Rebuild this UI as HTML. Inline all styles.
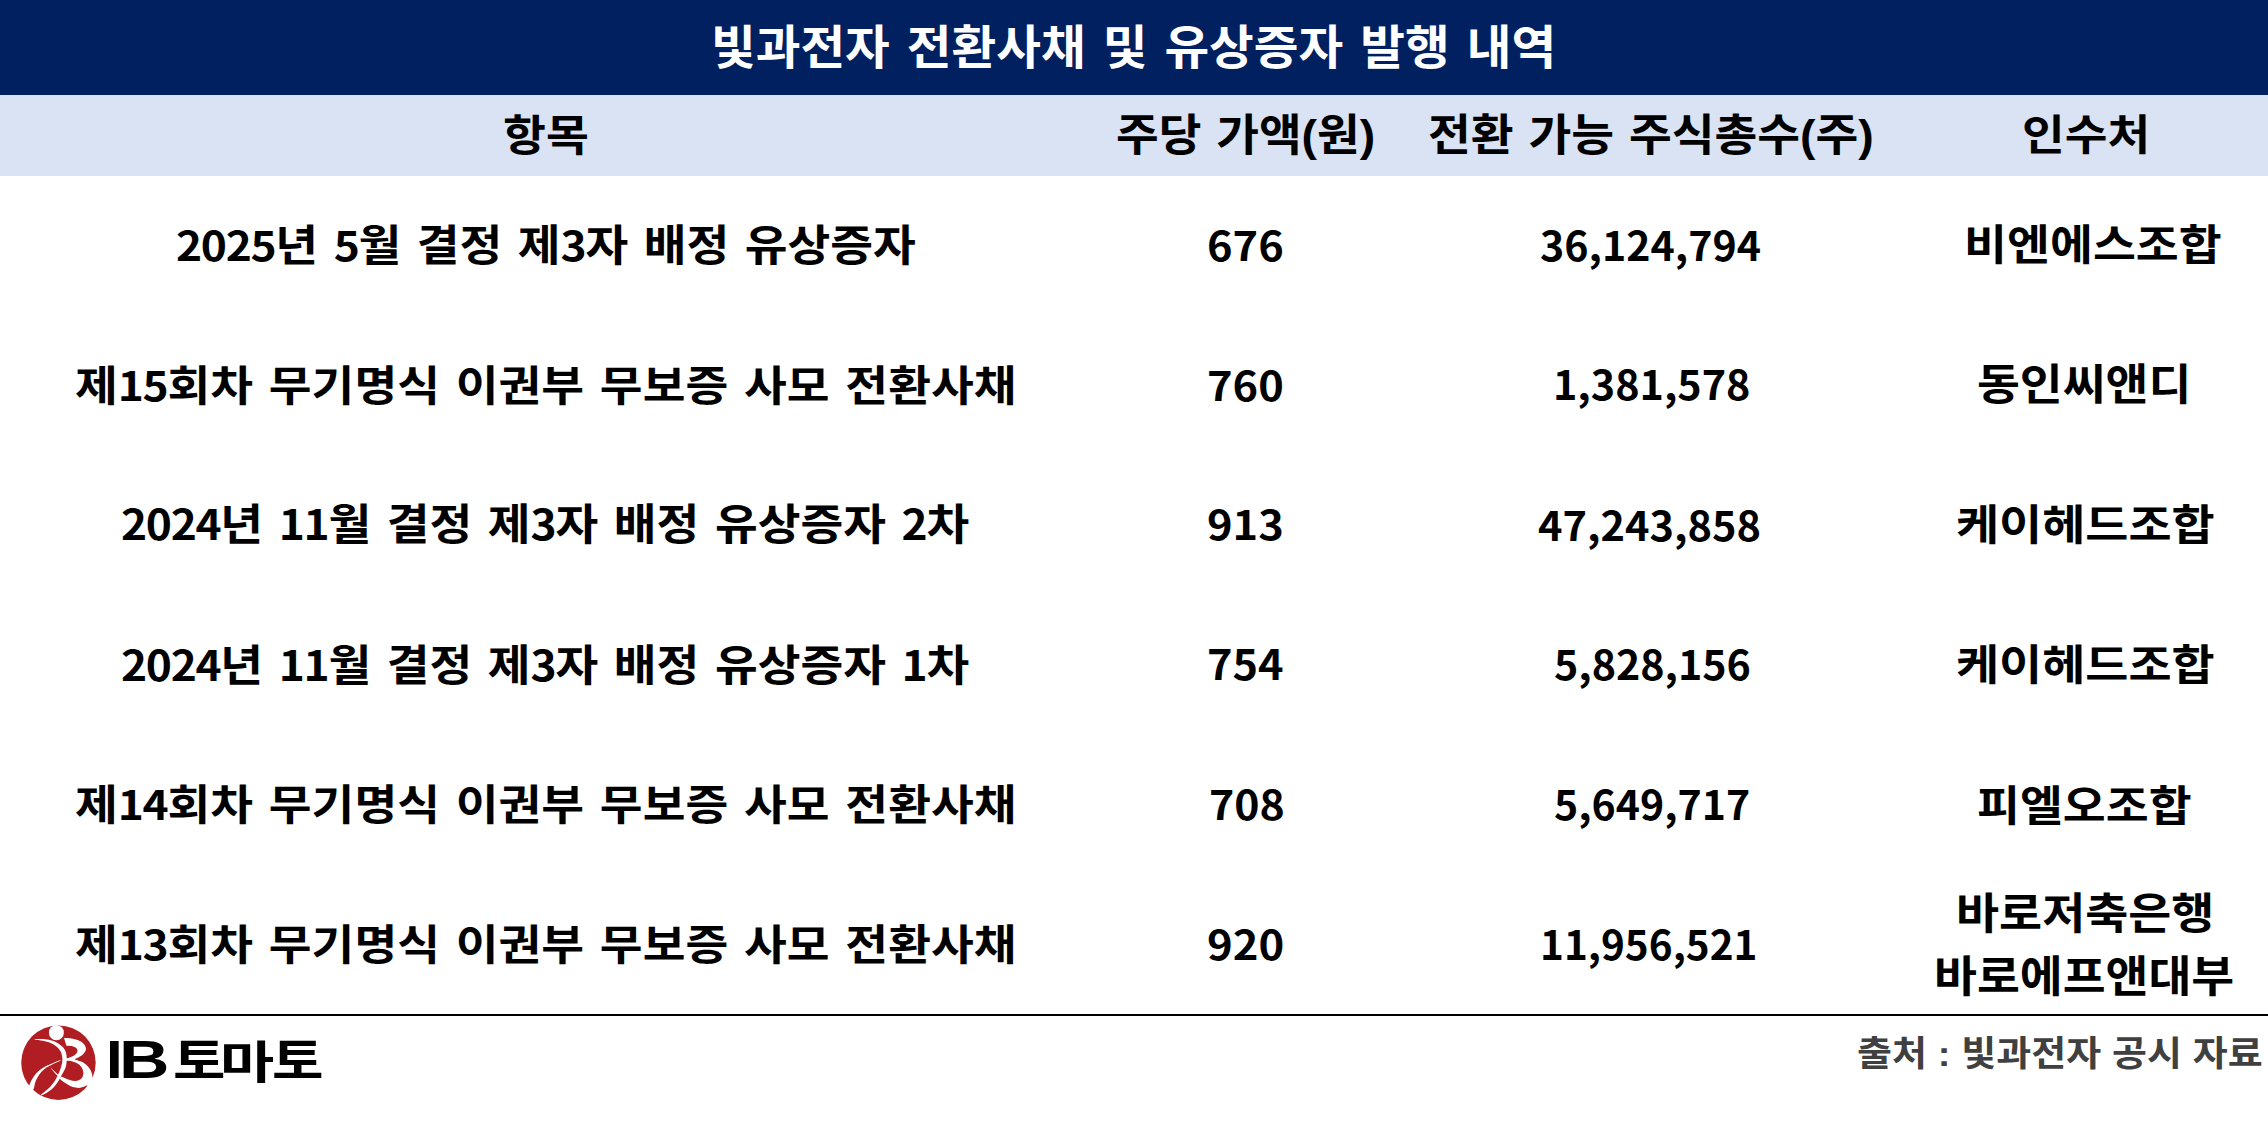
<!DOCTYPE html>
<html lang="ko">
<head>
<meta charset="utf-8">
<title>빛과전자 전환사채 및 유상증자 발행 내역</title>
<style>

html,body{margin:0;padding:0;background:#fff;}
#page{position:relative;width:2268px;height:1147px;overflow:hidden;background:#fff;font-family:"Liberation Sans", "Noto Sans CJK KR", sans-serif;font-weight:700;color:#000;}
.t{position:absolute;white-space:nowrap;line-height:1;transform-origin:0 0;}
.n{font-family:"Noto Sans CJK KR",sans-serif;font-size:0.953em;letter-spacing:-1.3px;}
.k{font-family:"Noto Sans CJK KR",sans-serif;}
.l{font-family:"Liberation Sans",sans-serif;}
#band1{position:absolute;left:0;top:0;width:2268px;height:95px;background:#002060;}
#band2{position:absolute;left:0;top:95px;width:2268px;height:81px;background:#dae3f3;}
#rule{position:absolute;left:0;top:1014px;width:2268px;height:2px;background:#000;}

</style>
</head>
<body>
<div id="page">
<div id="band1"></div>
<div id="band2"></div>
<div id="rule"></div>
<div class="t" id="title" style="left:710.97px;top:25.24px;font-size:48.6px;transform:scale(0.9998,0.9599);color:#fff;word-spacing:3.55px;">빛과전자 전환사채 및 유상증자 발행 내역</div>
<div class="t" id="h1" style="left:502.9px;top:113.86px;font-size:46.5px;transform:scale(1.0025,0.9368);">항목</div>
<div class="t" id="h2" style="left:1115.8px;top:114.47px;font-size:46.5px;transform:scale(0.9977,0.9595);word-spacing:2.0px;">주당 가액(원)</div>
<div class="t" id="h3" style="left:1427.65px;top:113.0px;font-size:46.5px;transform:scale(0.9999,0.9651);word-spacing:1.98px;">전환 가능 주식총수(주)</div>
<div class="t" id="h4" style="left:2022.15px;top:114.71px;font-size:46.5px;transform:scale(0.9983,0.9093);">인수처</div>
<div class="t" id="a0" style="left:175.79px;top:223.2px;font-size:46.5px;transform:scale(1.0001,0.9209);word-spacing:2.56px;"><span class="n">2025</span>년 <span class="n">5</span>월 결정 제<span class="n">3</span>자 배정 유상증자</div>
<div class="t" id="a1" style="left:74.7px;top:363.61px;font-size:46.5px;transform:scale(1.0001,0.9027);word-spacing:2.86px;">제<span class="n">15</span>회차 무기명식 이권부 무보증 사모 전환사채</div>
<div class="t" id="a2" style="left:121.25px;top:502.21px;font-size:46.5px;transform:scale(1.0001,0.9303);word-spacing:2.63px;"><span class="n">2024</span>년 <span class="n">11</span>월 결정 제<span class="n">3</span>자 배정 유상증자 <span class="n">2</span>차</div>
<div class="t" id="a3" style="left:121.25px;top:642.53px;font-size:46.5px;transform:scale(1.0001,0.9303);word-spacing:2.63px;"><span class="n">2024</span>년 <span class="n">11</span>월 결정 제<span class="n">3</span>자 배정 유상증자 <span class="n">1</span>차</div>
<div class="t" id="a4" style="left:74.7px;top:782.57px;font-size:46.5px;transform:scale(1.0001,0.9027);word-spacing:2.86px;">제<span class="n">14</span>회차 무기명식 이권부 무보증 사모 전환사채</div>
<div class="t" id="a5" style="left:74.7px;top:922.89px;font-size:46.5px;transform:scale(1.0001,0.9027);word-spacing:2.86px;">제<span class="n">13</span>회차 무기명식 이권부 무보증 사모 전환사채</div>
<div class="t k" id="b0" style="left:1207.23px;top:222.85px;font-size:42px;transform:scale(1.0326,0.9617);">676</div>
<div class="t k" id="b1" style="left:1206.83px;top:363.17px;font-size:42px;transform:scale(1.0326,0.9617);">760</div>
<div class="t k" id="b2" style="left:1207.32px;top:502.49px;font-size:42px;transform:scale(1.0335,0.9617);">913</div>
<div class="t k" id="b3" style="left:1207.28px;top:641.91px;font-size:42px;transform:scale(1.0302,0.9846);">754</div>
<div class="t k" id="b4" style="left:1208.61px;top:782.13px;font-size:42px;transform:scale(1.0199,0.9617);">708</div>
<div class="t k" id="b5" style="left:1207.25px;top:922.45px;font-size:42px;transform:scale(1.0389,0.9617);">920</div>
<div class="t k" id="c0" style="left:1540.26px;top:223.1px;font-size:42px;transform:scale(0.9794,0.9767);">36,124,794</div>
<div class="t k" id="c1" style="left:1552.83px;top:362.42px;font-size:42px;transform:scale(0.9831,0.9767);">1,381,578</div>
<div class="t k" id="c2" style="left:1538.31px;top:502.74px;font-size:42px;transform:scale(0.9881,0.9767);">47,243,858</div>
<div class="t k" id="c3" style="left:1553.64px;top:642.06px;font-size:42px;transform:scale(0.98,0.9767);">5,828,156</div>
<div class="t k" id="c4" style="left:1553.5px;top:782.38px;font-size:42px;transform:scale(0.9767,0.9767);">5,649,717</div>
<div class="t k" id="c5" style="left:1539.96px;top:921.7px;font-size:42px;transform:scale(0.964,0.9767);">11,956,521</div>
<div class="t" id="d0" style="left:1963.88px;top:224.84px;font-size:46.5px;transform:scale(1.0042,0.9006);">비엔에스조합</div>
<div class="t" id="d1" style="left:1977.38px;top:364.06px;font-size:46.5px;transform:scale(1.0017,0.9244);">동인씨앤디</div>
<div class="t" id="d2" style="left:1955.54px;top:504.54px;font-size:46.5px;transform:scale(1.0075,0.9075);">케이헤드조합</div>
<div class="t" id="d3" style="left:1955.54px;top:644.54px;font-size:46.5px;transform:scale(1.0075,0.9075);">케이헤드조합</div>
<div class="t" id="d4" style="left:1977.19px;top:785.59px;font-size:46.5px;transform:scale(1.0036,0.9027);">피엘오조합</div>
<div class="t" id="d5a" style="left:1955.83px;top:893.41px;font-size:46.5px;transform:scale(1.0068,0.9289);">바로저축은행</div>
<div class="t" id="d5b" style="left:1934.41px;top:954.86px;font-size:46.5px;transform:scale(1.0025,0.9366);">바로에프앤대부</div>
<div class="t" id="src" style="left:1857.05px;top:1036.46px;font-size:38px;transform:scale(1.0,0.9232);color:#404040;word-spacing:0.31px;">출처 : 빛과전자 공시 자료</div>
<div class="t l" id="wI" style="left:106.2px;top:1032.99px;font-size:50px;transform:scale(1.2,1.0599);">I</div>
<div class="t l" id="wB" style="left:118.96px;top:1032.99px;font-size:50px;transform:scale(1.3967,1.0599);">B</div>
<div class="t k" id="wT1" style="left:172.52px;top:1033.11px;font-size:46px;transform:scale(1.239,1.0446);">토</div>
<div class="t k" id="wM" style="left:220.04px;top:1035.92px;font-size:46px;transform:scale(1.281,0.9953);">마</div>
<div class="t k" id="wT2" style="left:271.76px;top:1033.11px;font-size:46px;transform:scale(1.2182,1.0446);">토</div>
<svg id="logo" style="position:absolute;left:10px;top:1015px;width:100px;height:95px;overflow:visible" viewBox="0 0 1207 1147">
<circle cx="584.8" cy="575.2" r="449.6" fill="#b01e23"/>
<circle cx="559.8" cy="213.2" r="90.5" fill="#fff"/>
<path d="M295.7,289.6 C316.6,290.0 384.5,288.5 420.8,292.0 C457.1,295.5 486.4,302.0 513.4,310.5 C540.4,319.0 561.3,329.0 582.9,342.9 C604.5,356.8 627.6,375.4 643.1,393.9 C658.6,412.4 668.7,432.5 675.6,454.1 C682.5,475.7 684.0,500.7 684.8,523.6 C685.6,546.5 682.5,573.4 680.2,591.6 C677.9,609.8 676.3,617.5 670.9,632.6 C665.5,647.7 657.1,663.8 647.8,682.1 C638.5,700.4 624.6,725.3 615.3,742.3 C606.0,759.3 603.0,767.0 592.2,784.0 C581.4,801.0 566.0,824.9 550.5,844.2 C535.0,863.5 518.0,883.6 499.5,899.8 C481.0,916.0 459.4,929.5 439.3,941.5 C419.2,953.5 389.1,966.6 379.1,971.6 L374.5,958.0 C382.2,952.2 403.1,937.3 420.8,923.0 C438.6,908.7 463.2,889.8 481.0,872.0 C498.8,854.2 514.2,834.9 527.3,816.4 C540.4,797.9 551.3,776.3 559.8,760.9 C568.3,745.5 571.4,738.5 578.3,723.8 C585.2,709.1 594.4,691.3 601.4,672.8 C608.4,654.3 615.1,631.4 620.0,612.6 C624.9,593.8 629.5,578.7 631.0,560.0 C632.5,541.3 633.4,521.9 629.2,500.4 C625.1,478.9 617.7,451.0 606.1,430.9 C594.5,410.8 579.1,395.4 559.8,380.0 C540.5,364.6 517.3,349.9 490.3,338.3 C463.3,326.7 430.0,317.8 397.6,310.5 C365.2,303.2 312.7,297.0 295.7,294.3 Z" fill="#fff"/>
<path d="M609.5,544.4 C593.8,550.6 547.0,568.5 515.4,581.8 C483.8,595.1 448.4,608.1 420.0,624.0 C391.6,639.9 367.3,657.6 345.2,677.1 C323.1,696.6 303.2,719.8 287.3,741.1 C271.4,762.4 259.3,786.2 249.8,805.1 C240.3,824.0 233.7,846.4 230.5,854.6 C222.9,861.3 180.9,881.6 185.0,895.0 C189.1,908.4 237.2,938.5 255.0,935.0 C272.9,931.5 285.9,884.1 292.1,873.9 C293.9,864.4 296.2,837.4 303.0,817.1 C309.8,796.8 321.0,772.9 333.1,752.0 C345.2,731.1 357.7,711.1 375.4,691.6 C393.1,672.1 416.0,651.2 439.3,634.9 C462.6,618.6 487.0,607.7 515.4,593.8 C543.8,579.9 593.8,558.6 609.5,551.6 Z" fill="#fff"/>
<path d="M652.4,278.0 C667.8,278.8 714.1,277.3 745.0,282.7 C775.9,288.1 813.0,298.9 837.7,310.5 C862.4,322.1 880.2,336.8 893.3,352.2 C906.4,367.6 914.9,386.9 916.4,403.1 C917.9,419.3 911.8,434.7 902.5,449.4 C893.2,464.1 879.3,478.0 860.8,491.1 C842.3,504.2 804.5,520.5 791.4,528.2 C778.3,535.9 783.6,536.0 782.0,537.5 C799.0,543.8 855.4,558.6 884.0,575.0 C912.6,591.4 936.5,615.6 953.5,635.8 C970.5,656.0 978.6,675.9 985.9,696.0 C993.2,716.1 995.6,746.2 997.5,756.2 C1007.9,763.5 1057.9,774.4 1060.0,800.0 C1062.1,825.6 1031.6,901.9 1010.0,910.0 C988.4,918.1 943.6,859.1 930.3,848.9 C918.7,853.5 883.9,872.1 860.8,876.7 C837.6,881.3 814.5,880.6 791.4,876.7 C768.2,872.8 745.1,864.3 721.9,853.5 C698.7,842.7 673.2,826.5 652.4,811.8 C631.5,797.1 606.1,773.2 596.8,765.5 L615.3,742.3 C621.5,744.6 634.6,749.2 652.4,756.2 C670.2,763.2 698.7,777.4 721.9,784.0 C745.1,790.6 770.5,796.4 791.4,795.6 C812.2,794.8 832.3,789.0 847.0,779.4 C861.7,769.8 873.2,753.9 879.4,737.7 C885.6,721.5 887.1,700.6 884.0,682.1 C880.9,663.6 872.4,642.7 860.8,626.5 C849.2,610.3 833.8,596.4 814.5,584.8 C795.2,573.2 766.6,562.3 745.0,557.0 C723.4,551.7 694.8,553.7 684.8,553.0 C680.7,550.8 659.2,544.9 660.0,540.0 C660.8,535.1 684.5,526.3 689.4,523.6 C702.5,518.2 748.9,501.9 768.2,491.1 C787.5,480.3 797.5,469.5 805.2,458.7 C812.9,447.9 816.8,437.1 814.5,426.3 C812.2,415.5 803.0,402.4 791.4,393.9 C779.8,385.4 763.5,379.2 745.0,375.3 C726.5,371.4 691.0,371.5 680.2,370.7 Z" fill="#fff"/>
<path d="M486,626 C515,662 550,697 586,724 L576,736 C545,708 510,670 486,626 Z" fill="#fff"/>
</svg>

</div>
</body>
</html>
